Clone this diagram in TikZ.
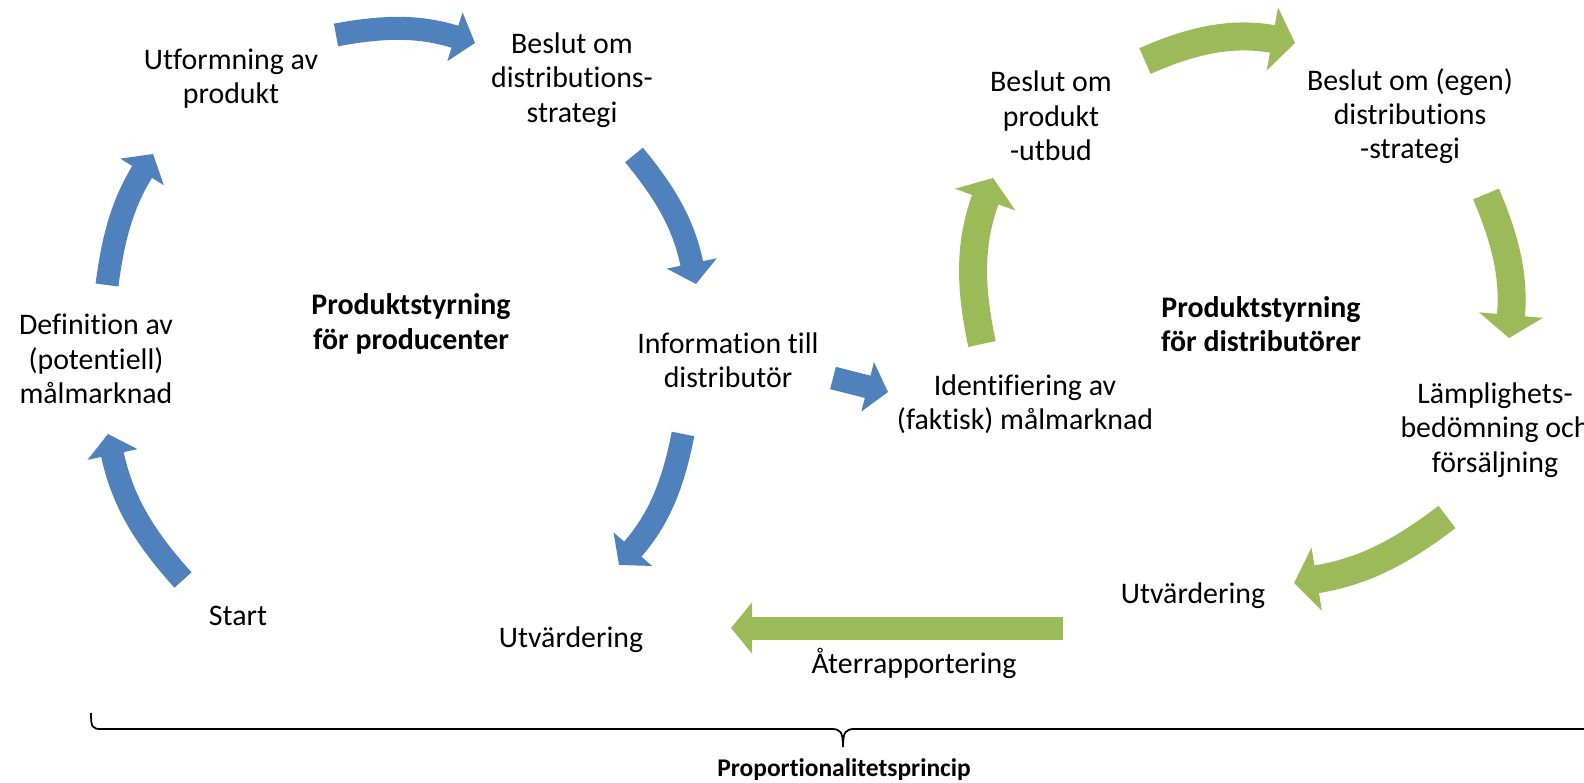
\documentclass[tikz,border=0pt]{standalone}
\usepackage{fontspec}
\setmainfont{Carlito}[Ligatures=NoCommon]
\usetikzlibrary{arrows.meta}
\definecolor{cycleblue}{HTML}{4F81BD}
\definecolor{cyclegreen}{HTML}{9BBB59}
\tikzset{
  steptext/.style={align=center, inner sep=0pt, font=\fontsize{17}{19.5}\selectfont},
  titletext/.style={align=center, inner sep=0pt, font=\fontsize{17}{19.5}\selectfont\bfseries},
  bluearrow/.style={draw=cycleblue, line width=0.46cm, -{Triangle[length=0.42cm,width=1.0cm]}},
  greenarrow/.style={draw=cyclegreen, line width=0.56cm, -{Triangle[length=0.46cm,width=1.26cm]}},
  flatgreen/.style={bluearrow, draw=cyclegreen},
}
\begin{document}
\begin{tikzpicture}[x=0.02cm, y=-0.02cm]
\useasboundingbox (0,0) rectangle (1584,783);
\clip (0,0) rectangle (1584,783);

% Producer cycle
\node[steptext] (start) at (238,616) {Start};
\node[steptext] (definition) at (96,359) {Definition av\\(potentiell)\\målmarknad};
\node[steptext] (utformning) at (231,79) {Utformning av\\produkt};
\node[steptext] (distrstrategi) at (572,80) {Beslut om\\distributions-\\strategi};
\node[steptext] (information) at (728,360) {Information till\\distributör};
\node[steptext] (utvprod) at (571,640) {Utvärdering};
\node[titletext] (producent) at (411,324) {Produktstyrning\\för producenter};

% Distributor cycle
\node[steptext] (identifiering) at (1025,404) {Identifiering av\\(faktisk) målmarknad};
\node[steptext] (utbud) at (1051,116) {Beslut om\\produkt\\-utbud};
\node[steptext] (egenstrategi) at (1410,116) {Beslut om (egen)\\distributions\\-strategi};
\node[steptext] (lamplighet) at (1495,430) {Lämplighets-\\bedömning och\\försäljning};
\node[steptext] (utvdistr) at (1193,596) {Utvärdering};
\node[titletext] (distributor) at (1261,324) {Produktstyrning\\för distributörer};
\node[steptext] (ater) at (914,663) {Återrapportering};

% Arrow end points
\coordinate (b1s) at (183,580); \coordinate (b1e) at (108,434);
\coordinate (b2s) at (107,285); \coordinate (b2e) at (153,154);
\coordinate (b3s) at (336,35);  \coordinate (b3e) at (475,43);
\coordinate (b4s) at (634,155); \coordinate (b4e) at (696,284);
\coordinate (b5s) at (683,434); \coordinate (b5e) at (619,565);
\coordinate (b6s) at (833,378); \coordinate (b6e) at (888,392);
\coordinate (g1s) at (982,344);  \coordinate (g1e) at (993,178);
\coordinate (g2s) at (1145,61);  \coordinate (g2e) at (1295,43);
\coordinate (g3s) at (1486,194); \coordinate (g3e) at (1509,338);
\coordinate (g4s) at (1447,517); \coordinate (g4e) at (1294,583);
\coordinate (g5s) at (1063,628); \coordinate (g5e) at (731,628);

% Blue arrows
\draw[bluearrow] (b1s) to[bend left=15] (b1e);
\draw[bluearrow] (b2s) to[bend left=12] (b2e);
\draw[bluearrow] (b3s) to[bend left=14] (b3e);
\draw[bluearrow] (b4s) to[bend left=14] (b4e);
\draw[bluearrow] (b5s) to[bend left=15] (b5e);
\draw[bluearrow] (b6s) -- (b6e);

% Green arrows
\draw[greenarrow] (g1s) to[bend left=16] (g1e);
\draw[greenarrow] (g2s) to[bend left=17] (g2e);
\draw[greenarrow] (g3s) to[bend left=14] (g3e);
\draw[greenarrow] (g4s) to[bend left=14] (g4e);
\draw[flatgreen] (g5s) -- (g5e);

% Brace
\coordinate (braceL) at (91,713);
\coordinate (braceM) at (843,747);
\coordinate (braceR) at (1595,713);
\draw[line width=1pt] (braceL) .. controls (91,727) and (92,729) .. (101,729) -- (831,729)
  .. controls (840,729) and (843,731) .. (braceM)
  .. controls (843,731) and (846,729) .. (855,729) -- (1585,729)
  .. controls (1594,729) and (1595,727) .. (braceR);
\node[font=\fontsize{14.5}{17}\selectfont\bfseries, inner sep=0pt] (princip) at (844,770) {Proportionalitetsprincip};
\end{tikzpicture}
\end{document}
